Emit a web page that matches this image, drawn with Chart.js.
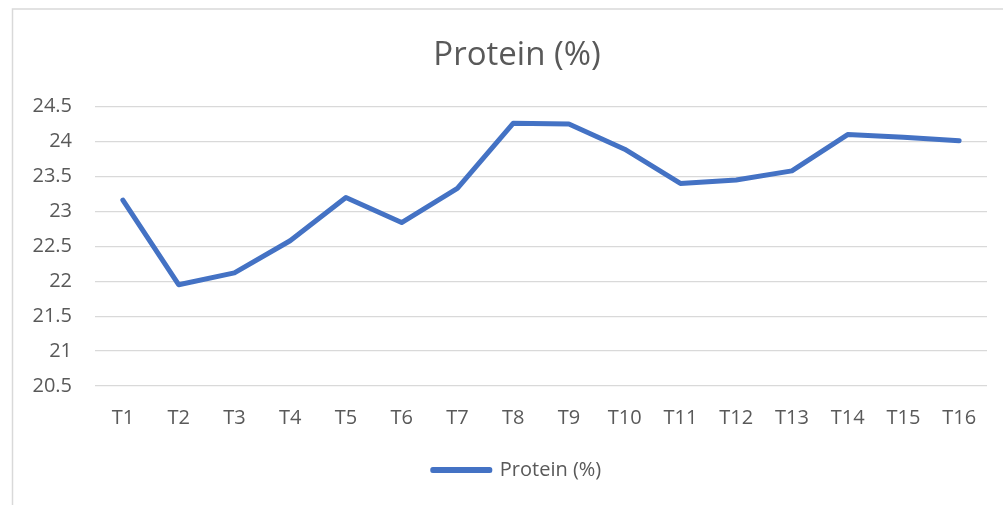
<!DOCTYPE html>
<html>
<head>
<meta charset="utf-8">
<script src="https://cdn.jsdelivr.net/npm/chart.js@4/dist/chart.umd.min.js"></script>
<style>
  html, body { margin: 0; padding: 0; background: #ffffff; overflow: hidden; }
  #wrap { position: relative; width: 1003px; height: 505px; overflow: hidden; }
  #c { position: absolute; left: 0; top: 0; }
</style>
</head>
<body>
<div id="wrap"><canvas id="c" width="1022" height="505"></canvas></div>
<script>
const categories = ['T1','T2','T3','T4','T5','T6','T7','T8','T9','T10','T11','T12','T13','T14','T15','T16'];
const proteinValues = [23.16, 21.95, 22.12, 22.58, 23.20, 22.84, 23.33, 24.26, 24.25, 23.89, 23.40, 23.45, 23.58, 24.10, 24.06, 24.01];
const seriesName = 'Protein (%)';
const chartTitle = 'Protein (%)';
const yMin = 20.5, yMax = 24.5, yStep = 0.5;

const FONT = "'Open Sans', 'Liberation Sans', sans-serif";
const TXT = '#595959';
const LINE = '#4472C4';

const frame = {
  id: 'frame',
  beforeDraw(chart) {
    const ctx = chart.ctx;
    ctx.save();
    ctx.fillStyle = '#ffffff';
    ctx.fillRect(0, 0, chart.width, chart.height);
    ctx.strokeStyle = '#d9d9d9';
    ctx.lineWidth = 1.5;
    ctx.beginPath();
    ctx.moveTo(12.5, chart.height);
    ctx.lineTo(12.5, 9);
    ctx.lineTo(chart.width, 9);
    ctx.stroke();
    ctx.restore();
  }
};

new Chart(document.getElementById('c'), {
  type: 'line',
  data: {
    labels: categories,
    datasets: [{
      label: seriesName,
      data: proteinValues,
      borderColor: LINE,
      backgroundColor: LINE,
      borderWidth: 5,
      pointRadius: 0,
      pointHoverRadius: 0,
      tension: 0,
      borderCapStyle: 'round',
      borderJoinStyle: 'round',
      fill: false,
      yAxisID: 'y'
    }]
  },
  options: {
    responsive: false,
    animation: false,
    events: [],
    layout: { padding: { left: 12, right: 0, top: 0, bottom: 15 } },
    plugins: {
      title: {
        display: true,
        text: chartTitle,
        color: TXT,
        font: { family: FONT, size: 33, weight: 'normal' },
        padding: { top: 36, bottom: 31 }
      },
      legend: {
        display: true,
        position: 'bottom',
        labels: {
          color: TXT,
          font: { family: FONT, size: 20 },
          boxWidth: 57,
          boxHeight: 1,
          padding: 10
        }
      },
      tooltip: { enabled: false }
    },
    scales: {
      x: {
        type: 'category',
        offset: true,
        grid: { display: false, drawTicks: false },
        border: { display: false },
        ticks: { color: TXT, font: { family: FONT, size: 20 }, padding: 20, maxRotation: 0, autoSkip: false },
        afterFit(scale) { scale.height = 64; }
      },
      y: {
        position: 'left',
        min: yMin,
        max: yMax,
        grid: { color: '#d9d9d9', lineWidth: 1.3, drawTicks: false },
        border: { display: false },
        ticks: {
          stepSize: yStep,
          color: TXT,
          font: { family: FONT, size: 20 },
          padding: 23,
          callback: (v) => String(Number(Number(v).toFixed(1)))
        },
        afterFit(scale) { scale.width = 83; }
      },
      yRight: {
        position: 'right',
        min: yMin,
        max: yMax,
        grid: { display: false, drawTicks: false },
        border: { display: false },
        ticks: { display: false },
        afterFit(scale) { scale.width = 35; }
      }
    }
  },
  plugins: [frame]
});
</script>
</body>
</html>
